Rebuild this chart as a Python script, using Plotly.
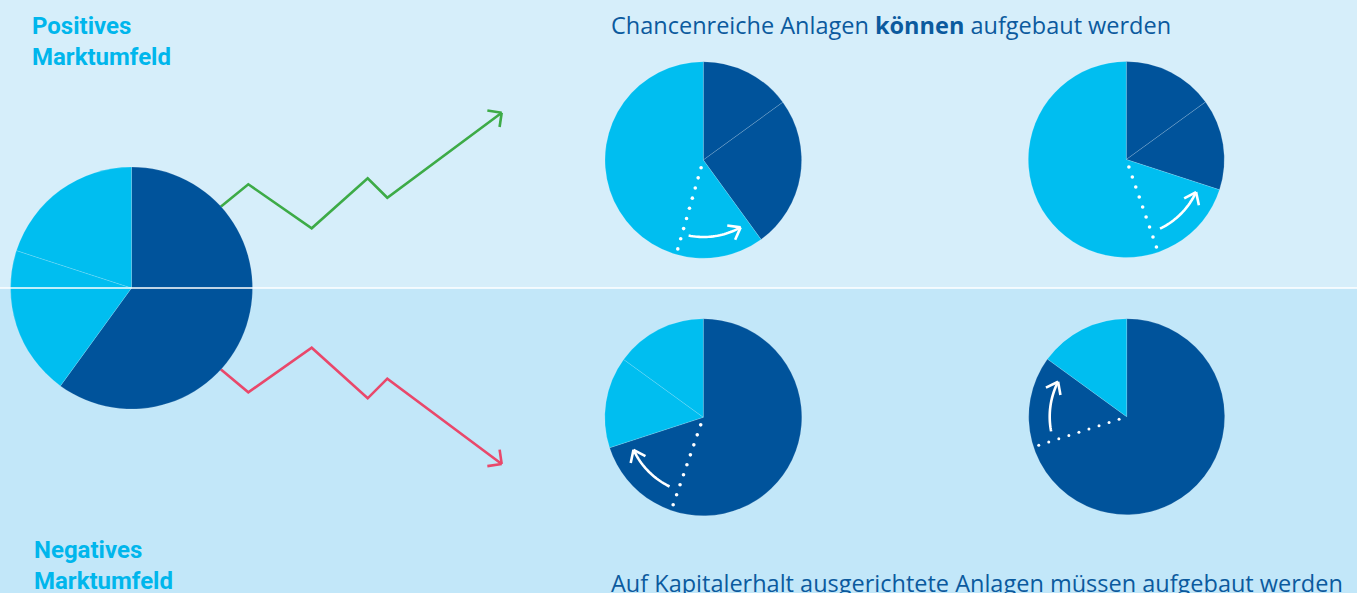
import math
import plotly.graph_objects as go

W, H = 1357, 593

# ---------------- data ----------------
big_values = [60, 20, 20]
big_kinds = ["dark", "light", "light"]

pos1_values = [15, 25, 60]
pos1_kinds = ["dark", "dark", "light"]
pos2_values = [15, 15, 70]
pos2_kinds = ["dark", "dark", "light"]

neg1_values = [70, 15, 15]
neg1_kinds = ["dark", "light", "light"]
neg2_values = [85, 15]
neg2_kinds = ["dark", "light"]

# dotted marker angle and shift-arrow arc (degrees clockwise from 12 o'clock)
dotted_angles = [196, 161, 199, 252]
arrow_start = [191, 154, 206, 259]
arrow_end = [151, 115, 245, 297]

# market paths (stylised index)
path_x = [220.7, 248.3, 311.7, 367.7, 387.3, 501.7]
green_y = [206.7, 184.3, 228.3, 178.3, 197.7, 112.7]
red_y = [369.3, 392.3, 347.7, 398.3, 378.7, 464.0]

label_pos = "Positives<br>Marktumfeld"
label_neg = "Negatives<br>Marktumfeld"
title_pos = "Chancenreiche Anlagen <b>können</b> aufgebaut werden"
title_neg = "Auf Kapitalerhalt ausgerichtete Anlagen müssen aufgebaut werden"

# ---------------- styles / layout ----------------
DARK = "#00539b"
LIGHT = "#00bef0"
BG_TOP = "#d6eefa"
BG_BOT = "#c2e7f9"
GREEN = "#3dab47"
RED = "#e9486b"
CYAN_TXT = "#00b6ec"
BLUE_TXT = "#0b5a9e"
FONT_LABEL = "Roboto"
FONT_TITLE = "Open Sans"
cmap = {"dark": DARK, "light": LIGHT}

SPLIT_Y = 288
big_geom = (131.5, 288.0, 121.0)
small_geom = [(703.3, 160.0, 98.3), (1126.3, 159.5, 98.0),
              (703.3, 417.3, 98.5), (1126.7, 416.7, 98.0)]

fig = go.Figure()


def add_pie(values, kinds, geom):
    cx, cy, r = geom
    fig.add_trace(go.Pie(
        values=values,
        marker=dict(colors=[cmap[k] for k in kinds],
                    line=dict(color="rgba(255,255,255,0.22)", width=0.7)),
        sort=False, direction="clockwise", rotation=0,
        textinfo="none", hoverinfo="skip", showlegend=False,
        domain=dict(x=[(cx - r) / W, (cx + r) / W],
                    y=[1 - (cy + r) / H, 1 - (cy - r) / H]),
    ))


add_pie(big_values, big_kinds, big_geom)
add_pie(pos1_values, pos1_kinds, small_geom[0])
add_pie(pos2_values, pos2_kinds, small_geom[1])
add_pie(neg1_values, neg1_kinds, small_geom[2])
add_pie(neg2_values, neg2_kinds, small_geom[3])


def arrow_head(x0, y0, x1, y1, length, spread):
    ang = math.atan2(y1 - y0, x1 - x0)
    xs, ys = [], []
    for s in (spread, -spread):
        a = ang + math.pi + math.radians(s)
        xs += [x1 + length * math.cos(a), x1, None]
        ys += [y1 + length * math.sin(a), y1, None]
    return xs, ys


for ys, col in ((green_y, GREEN), (red_y, RED)):
    hx, hy = arrow_head(path_x[-2], ys[-2], path_x[-1], ys[-1], 14.5, 45)
    fig.add_trace(go.Scatter(
        x=list(path_x) + [None] + hx, y=list(ys) + [None] + hy,
        mode="lines", line=dict(color=col, width=2.6),
        hoverinfo="skip", showlegend=False, connectgaps=False))

shapes = [
    dict(type="rect", xref="x", yref="y", x0=0, x1=W, y0=0, y1=SPLIT_Y,
         fillcolor=BG_TOP, line=dict(width=0), layer="below"),
    dict(type="rect", xref="x", yref="y", x0=0, x1=W, y0=SPLIT_Y, y1=H,
         fillcolor=BG_BOT, line=dict(width=0), layer="below"),
    dict(type="line", xref="x", yref="y", x0=0, x1=W, y0=SPLIT_Y, y1=SPLIT_Y,
         line=dict(color="white", width=1.6), layer="above"),
]


def pt(cx, cy, r, deg):
    t = math.radians(deg)
    return cx + r * math.sin(t), cy - r * math.cos(t)


for i, (cx, cy, r) in enumerate(small_geom):
    # dotted line
    n = 9
    for k in range(n):
        rr = 8 + k * (84.5 / (n - 1))
        x, y = pt(cx, cy, rr, dotted_angles[i])
        d = 3.6 if i < 3 else 3.0
        shapes.append(dict(type="circle", xref="x", yref="y",
                           x0=x - d / 2, x1=x + d / 2, y0=y - d / 2, y1=y + d / 2,
                           fillcolor="white", line=dict(width=0), layer="above"))
    # curved arrow
    a0, a1 = arrow_start[i], arrow_end[i]
    ra = 77
    steps = 24
    pts = [pt(cx, cy, ra, a0 + (a1 - a0) * s / steps) for s in range(steps + 1)]
    path = "M " + " L ".join(f"{x:.2f},{y:.2f}" for x, y in pts)
    shapes.append(dict(type="path", xref="x", yref="y", path=path,
                       line=dict(color="white", width=2.6), layer="above"))
    sgn = 1 if a1 > a0 else -1
    t = math.radians(a1)
    dx, dy = sgn * math.cos(t), sgn * math.sin(t)
    tx, ty = pts[-1]
    ang = math.atan2(dy, dx)
    for s in (37, -37):
        a = ang + math.pi + math.radians(s)
        shapes.append(dict(type="line", xref="x", yref="y",
                           x0=tx, y0=ty, x1=tx + 13.5 * math.cos(a), y1=ty + 13.5 * math.sin(a),
                           line=dict(color="white", width=2.6), layer="above"))

annotations = [
    dict(text=label_pos, x=30, y=10, xref="x", yref="y", xanchor="left", yanchor="top",
         align="left", showarrow=False, font=dict(family=FONT_LABEL, size=24, color=CYAN_TXT, weight=700)),
    dict(text=label_neg, x=32, y=534, xref="x", yref="y", xanchor="left", yanchor="top",
         align="left", showarrow=False, font=dict(family=FONT_LABEL, size=24, color=CYAN_TXT, weight=700)),
    dict(text=title_pos, x=609, y=7, xref="x", yref="y", xanchor="left", yanchor="top",
         align="left", showarrow=False, font=dict(family=FONT_TITLE, size=23.5, color=BLUE_TXT)),
    dict(text=title_neg, x=609, y=565, xref="x", yref="y", xanchor="left", yanchor="top",
         align="left", showarrow=False, font=dict(family=FONT_TITLE, size=23.5, color=BLUE_TXT)),
]

fig.update_layout(
    width=W, height=H,
    margin=dict(l=0, r=0, t=0, b=0),
    paper_bgcolor=BG_BOT, plot_bgcolor="rgba(0,0,0,0)",
    xaxis=dict(range=[0, W], visible=False, fixedrange=True),
    yaxis=dict(range=[H, 0], visible=False, fixedrange=True),
    shapes=shapes, annotations=annotations,
    showlegend=False,
)

fig.write_html("out.html", config={"displayModeBar": False},
               post_script="document.body.style.margin='0';document.body.style.overflow='hidden';")
